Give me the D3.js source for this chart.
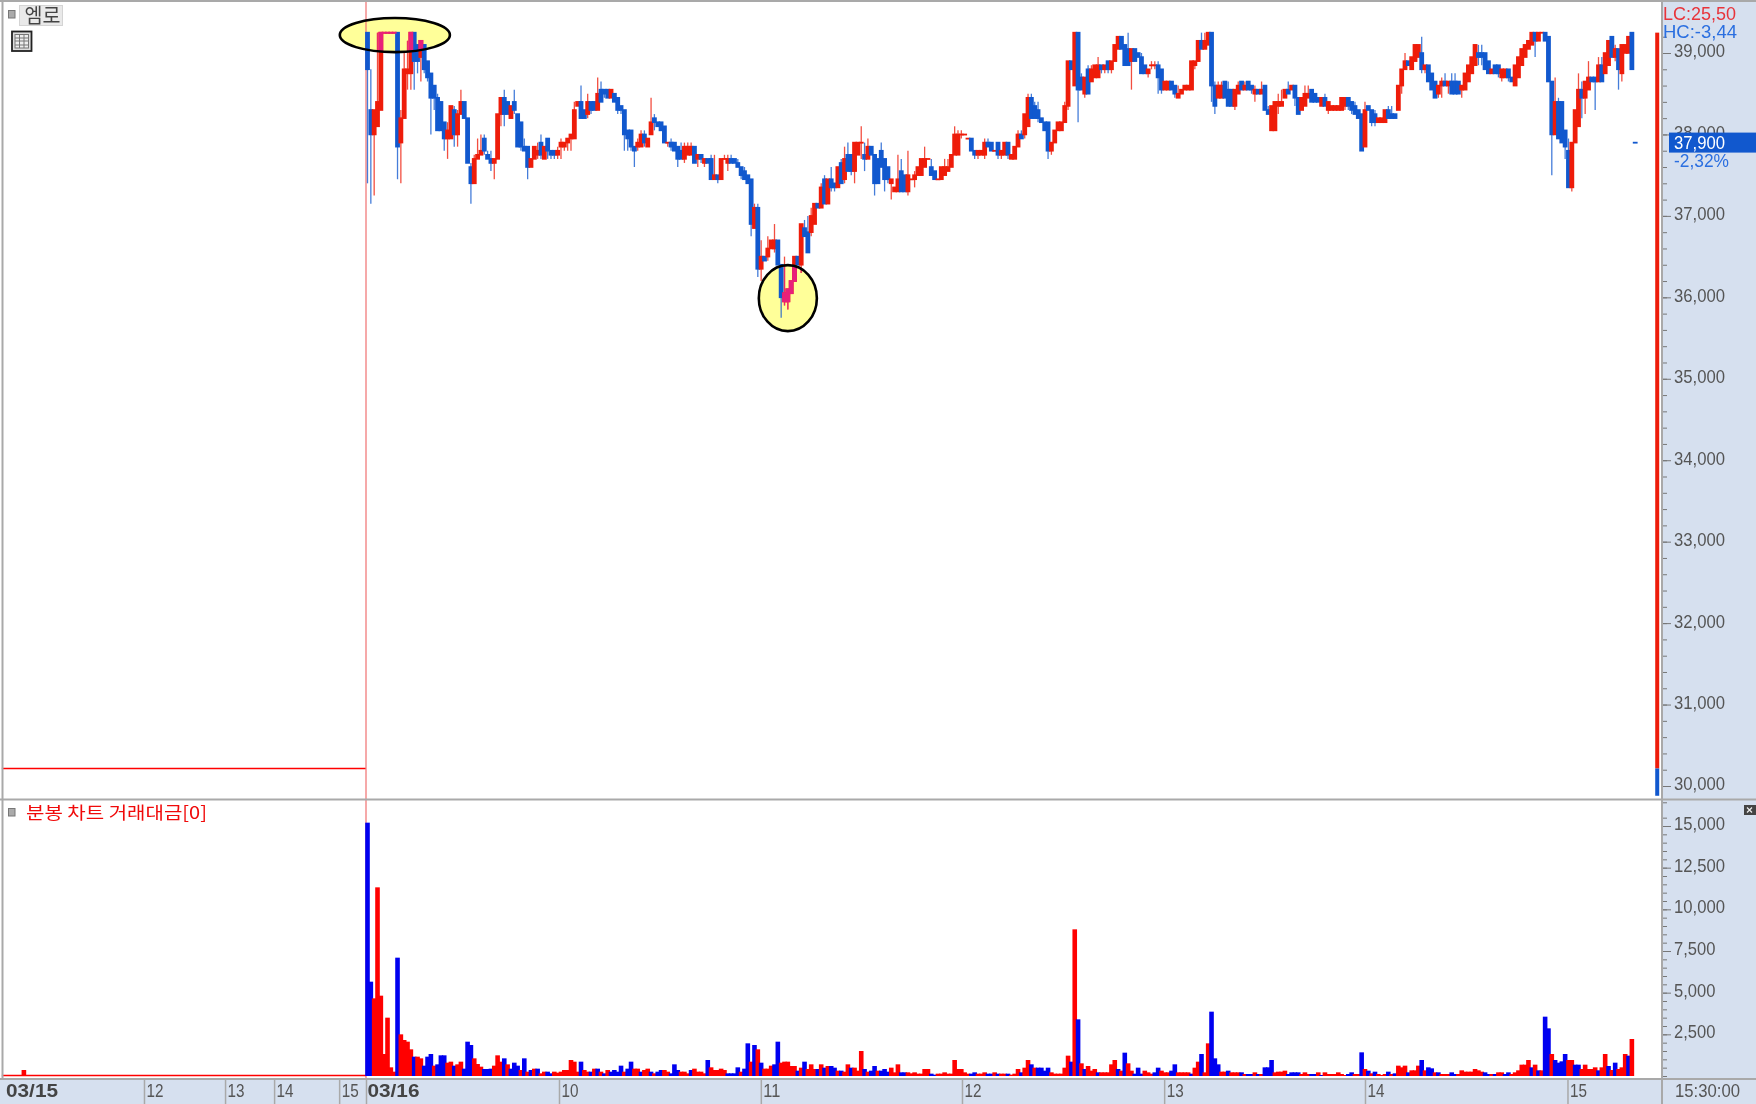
<!DOCTYPE html>
<html><head><meta charset="utf-8">
<script src="https://cdnjs.cloudflare.com/ajax/libs/d3/7.8.5/d3.min.js"></script>
<style>html,body{margin:0;padding:0;background:#fff;overflow:hidden}svg{display:block;filter:blur(.35px)}</style>
</head><body><svg id="c" width="1756" height="1104"></svg>
<script>
// One-minute candles, 03/16 session (bar index 0 = 09:00)
const opens=[39250,38300,38000,38100,38300,39250,39250,39250,39250,39250,
37900,38200,38750,38750,39250,39100,38950,39100,38900,38750,
38600,38450,38400,38150,37950,37950,38300,38000,38250,38400,
38200,37600,37400,37700,37750,37950,37750,37700,37650,37700,
38250,38450,38400,38200,38400,38250,38150,37850,37850,37600,
37700,37750,37900,37700,37950,37800,37800,37750,37850,37850,
37900,37950,37950,38350,38400,38300,38250,38400,38400,38300,
38550,38550,38550,38450,38500,38450,38350,38300,38050,38050,
37850,37850,37850,38000,37850,38000,38200,38150,38150,38100,
37900,37900,37900,37850,37800,37700,37750,37750,37850,37700,
37750,37650,37700,37700,37450,37500,37450,37700,37650,37700,
37700,37650,37600,37550,37500,37450,36850,37100,36350,36500,
36500,36600,36600,36700,36400,35950,35950,36050,36200,36500,
36400,36850,36800,36800,36900,37150,37100,37450,37150,37450,
37400,37350,37650,37450,37750,37750,37550,37750,37900,37750,
37700,37850,37750,37700,37800,37700,37600,37400,37300,37300,
37550,37500,37300,37450,37450,37500,37500,37600,37700,37600,
37550,37450,37450,37500,37550,37600,37750,37750,38000,38000,
37950,37950,37800,37750,37750,37750,37900,37900,37800,37900,
37750,37750,37900,37700,37700,37850,38000,38000,38100,38450,
38350,38300,38200,38150,38150,37800,37900,38050,38050,38150,
38350,38900,38600,39250,38700,38500,38800,38650,38700,38700,
38850,38800,38900,38800,38900,39050,39200,39100,39050,38900,
39050,39000,38950,38850,38750,38850,38850,38850,38800,38550,
38550,38650,38600,38450,38500,38550,38550,38550,38850,38900,
39150,39050,39100,39250,38600,38450,38450,38650,38550,38550,
38350,38500,38650,38550,38650,38600,38500,38550,38500,38600,
38300,38050,38050,38350,38350,38450,38550,38550,38600,38450,
38300,38350,38450,38550,38500,38450,38350,38450,38300,38300,
38300,38300,38300,38350,38450,38400,38350,38300,38250,37850,
38350,38300,38250,38150,38150,38150,38300,38250,38250,38300,
38600,38800,38900,38800,38900,38950,39000,38800,38850,38750,
38650,38500,38600,38650,38600,38650,38650,38650,38550,38550,
38650,38750,38850,39000,39000,39000,38900,38750,38850,38850,
38700,38700,38800,38700,38600,38700,38850,38950,39050,39100,
39250,39150,39250,39250,39200,38650,38000,38400,38400,38050,
37800,37350,37900,38100,38550,38450,38550,38700,38700,38650,
38850,38750,38850,39200,38950,39050,38750,39000,39000,39250,37900];
const highs=[39250,38800,38300,39250,39250,39250,39250,39250,39250,39250,
38300,39000,39150,39250,39250,39100,39150,39100,38900,38750,
38600,38500,38400,38150,38150,38350,38350,38300,38550,38400,
38200,37650,37750,37950,38000,38000,37800,37800,37700,38250,
38450,38550,38400,38350,38550,38250,38150,37950,37850,37700,
37850,37900,38000,37850,37950,37800,37800,37850,37950,37900,
37950,38000,38400,38400,38600,38300,38500,38400,38400,38700,
38650,38550,38550,38550,38500,38450,38350,38300,38050,38050,
37850,37950,38050,38050,37950,38450,38250,38150,38150,38100,
37900,37950,37900,37850,37900,37900,37900,37900,37850,37750,
37750,37700,37700,37750,37750,37500,37700,37750,37750,37750,
37700,37700,37600,37600,37500,37450,37150,37150,36700,36500,
36750,36700,36900,36700,36400,36500,36100,36200,36500,36500,
36900,36950,37000,37100,37150,37150,37400,37500,37450,37600,
37400,37600,37700,37850,37900,37750,37900,37900,38100,37900,
37950,37850,37750,37700,37900,37700,37600,37450,37350,37750,
37700,37500,37800,37450,37550,37600,37700,37850,37700,37700,
37550,37450,37600,37700,37700,37750,38100,38050,38050,38000,
37950,37950,37800,37800,37800,37950,37950,37900,37800,37900,
37800,37900,37900,37750,37850,38050,38050,38000,38500,38500,
38400,38400,38200,38150,38150,37900,38050,38150,38150,38400,
38900,38900,39250,39250,38750,38700,38850,38850,38850,38950,
38850,38850,38900,38900,39100,39200,39200,39100,39250,39050,
39050,39000,39000,38850,38800,38900,38900,38900,38800,38650,
38650,38650,38600,38600,38550,38600,38600,38900,38900,39150,
39250,39250,39250,39250,38650,38650,38650,38650,38650,38550,
38550,38650,38650,38650,38650,38600,38600,38550,38650,38600,
38350,38350,38400,38500,38550,38550,38650,38600,38600,38450,
38450,38600,38600,38550,38500,38450,38450,38500,38400,38350,
38350,38350,38450,38450,38450,38400,38400,38300,38250,38400,
38350,38300,38300,38200,38200,38300,38350,38350,38250,38600,
38800,39000,38900,38950,39100,39100,39200,38800,38850,38750,
38650,38600,38700,38750,38650,38750,38750,38650,38600,38750,
38850,38950,39100,39100,39100,39000,38900,38800,38850,38850,
38800,38800,38800,38700,38850,38950,39050,39100,39150,39250,
39250,39250,39250,39250,39200,38650,38700,38450,38400,38050,
37950,37900,38300,38750,38650,38650,38900,38700,38700,38950,
38950,39000,39150,39200,39100,39050,39100,39100,39200,39250,37900];
const lows=[37400,37150,37250,38100,38300,39250,39250,39250,39250,37450,
37400,38200,38550,38550,38550,38750,38650,38750,38650,38000,
38300,38050,38050,37800,37700,37950,37850,37850,38250,38200,
37650,37150,37400,37700,37750,37750,37700,37550,37450,37700,
38100,38100,38250,38200,38250,37850,37800,37800,37450,37600,
37700,37700,37700,37700,37700,37700,37700,37700,37700,37800,
37800,37800,37950,38350,38200,38200,38200,38250,38300,38300,
38400,38450,38450,38450,38400,38250,38250,37800,37800,37800,
37600,37800,37850,37850,37850,38000,38050,38100,38050,37900,
37850,37800,37800,37600,37700,37650,37750,37750,37650,37600,
37650,37600,37650,37450,37450,37400,37450,37700,37550,37650,
37650,37600,37450,37450,37400,36750,36850,36250,36200,36450,
36450,36600,36550,36400,35750,35900,35850,36050,36200,36400,
36300,36750,36550,36750,36900,37100,37100,37150,37150,37300,
37300,37350,37400,37400,37550,37500,37400,37750,37700,37550,
37700,37750,37250,37400,37600,37300,37400,37200,37300,37300,
37300,37300,37250,37450,37350,37500,37500,37600,37700,37500,
37450,37450,37450,37500,37550,37600,37750,37750,37950,38000,
37950,37800,37700,37700,37750,37700,37850,37800,37800,37700,
37700,37750,37700,37700,37700,37850,37950,37950,38100,38200,
38200,38150,38150,38050,37700,37750,37900,38050,38050,38150,
38300,38800,38600,38150,38550,38450,38500,38650,38700,38700,
38750,38750,38750,38750,38900,39050,39050,38850,38850,38550,
38900,38950,38750,38750,38700,38800,38800,38500,38500,38550,
38550,38550,38450,38450,38500,38550,38550,38550,38800,38900,
39050,39050,39100,38400,38250,38450,38450,38450,38350,38350,
38300,38500,38550,38550,38550,38500,38400,38500,38550,38300,
38250,38050,38050,38250,38350,38450,38500,38550,38350,38250,
38300,38350,38450,38450,38400,38400,38400,38350,38250,38300,
38300,38300,38300,38300,38300,38250,38250,38200,37800,37850,
38300,38100,38100,38150,38150,38150,38300,38200,38200,38300,
38500,38800,38850,38800,38900,38950,38750,38750,38750,38650,
38500,38450,38450,38600,38500,38600,38500,38500,38450,38550,
38650,38750,38850,38850,38850,38950,38850,38750,38750,38700,
38650,38700,38650,38650,38600,38700,38850,38950,39050,39100,
38950,39150,39250,39150,38650,37500,38000,37950,37900,37700,
37350,37300,37900,38100,38200,38250,38550,38650,38300,38650,
38650,38750,38850,38950,38900,38550,38650,39000,39000,38800,37900];
const closes=[38800,38000,38300,38400,39250,39250,39250,39250,39250,37850,
38200,38800,38800,39250,38900,38900,39150,38800,38700,38450,
38450,38050,38050,37950,38050,38350,38000,38250,38400,38200,
37650,37400,37700,37750,37800,37800,37700,37650,37700,38250,
38450,38250,38250,38350,38300,37850,37850,37800,37600,37700,
37850,37800,37750,37850,37800,37750,37750,37800,37900,37900,
37950,38000,38300,38400,38200,38200,38400,38300,38300,38500,
38400,38500,38450,38550,38400,38300,38300,38000,37950,37850,
37800,37900,38000,37900,37950,38150,38150,38100,38050,37900,
37900,37850,37800,37700,37700,37850,37850,37850,37650,37750,
37700,37700,37650,37450,37500,37450,37700,37700,37700,37650,
37650,37600,37500,37450,37400,36900,37100,36350,36500,36450,
36600,36700,36700,36400,36000,36050,36100,36200,36500,36400,
36900,36750,36550,37000,37150,37100,37350,37150,37450,37350,
37350,37600,37400,37700,37550,37550,37900,37900,37900,37700,
37850,37750,37400,37400,37600,37450,37450,37450,37350,37450,
37300,37300,37500,37450,37500,37600,37700,37700,37700,37500,
37450,37450,37600,37600,37600,37750,38000,38000,38000,38000,
37950,37800,37750,37800,37800,37900,37850,37800,37800,37750,
37800,37900,37750,37750,37850,38000,37950,38250,38450,38200,
38200,38200,38150,38050,37800,37900,38050,38150,38150,38350,
38900,38800,39250,38550,38550,38700,38500,38800,38850,38850,
38800,38850,38800,38900,39100,39200,39050,38850,38850,39050,
38900,38950,38750,38750,38800,38850,38850,38700,38550,38650,
38650,38550,38500,38500,38550,38600,38600,38900,38900,39150,
39050,39150,39250,38600,38350,38600,38600,38450,38350,38350,
38550,38600,38550,38600,38550,38550,38550,38500,38550,38300,
38250,38350,38400,38400,38400,38550,38500,38600,38450,38250,
38450,38500,38500,38400,38400,38400,38450,38350,38400,38350,
38350,38350,38450,38450,38350,38300,38250,38200,37800,38300,
38300,38150,38150,38200,38200,38300,38200,38200,38200,38600,
38800,38900,38850,38950,39100,39100,38800,38850,38650,38550,
38450,38600,38650,38600,38650,38500,38500,38500,38600,38750,
38850,38950,39100,38950,38950,38800,38750,38800,38750,38750,
38800,38800,38700,38650,38850,38950,39050,39100,39150,39250,
39150,39250,39250,39150,38650,38000,38400,37950,37900,37850,
37350,37900,38300,38550,38450,38650,38700,38650,38650,38850,
38650,39000,39150,38950,39050,38800,39100,39100,39200,38800,37900];

// Traded value per minute; a negative figure marks a falling (blue) bar.
const signedValues=[-15200,-5660,4660,11320,4820,1320,3500,520,260,-7100,
2500,2160,2060,1600,-1160,1160,1060,-620,-1160,-1320,
620,-700,-1240,-1240,800,860,-620,700,860,-440,
-2060,-1860,1060,720,560,-420,-420,-440,620,1240,
860,-1060,700,-440,-800,-620,360,-1060,260,-360,
440,-440,160,260,-260,-160,260,200,260,360,
360,960,860,260,-860,360,260,-260,440,-440,
260,-160,360,-260,-360,-260,-620,260,-440,-860,
440,440,-260,360,440,-260,160,-260,-360,360,
260,-160,-700,-360,260,260,160,-360,440,260,
260,160,-960,520,360,360,440,360,-160,-160,
-160,-520,260,-440,-1960,860,-1860,1600,-800,440,
440,620,-700,-2060,800,860,860,600,600,-320,
500,-860,420,700,420,-420,700,-500,600,-600,
-500,320,-320,260,700,-500,500,320,1500,-420,
260,-320,-600,320,-320,-420,-260,500,220,700,
-220,-220,220,160,220,140,140,420,420,-140,
-80,140,140,220,140,140,960,420,420,220,
140,-140,-220,140,140,220,-140,-140,220,-140,
140,140,-140,80,140,420,-220,500,960,-700,
500,-500,-500,-320,-500,220,140,140,140,500,
1220,-860,8800,-3400,760,-420,600,320,420,-220,
220,220,220,700,960,-420,320,-1400,760,320,
-140,-500,-140,320,220,140,-220,-500,320,220,
220,-320,-700,220,220,220,220,-140,500,860,
-1320,220,1960,-3860,-1060,-700,260,260,-320,220,
220,220,-220,120,-120,-120,220,-120,120,-520,
-520,-960,220,260,260,320,-120,-220,-220,-220,
120,220,120,-120,-120,220,-60,220,120,120,
120,220,120,60,-120,-220,120,120,-1420,420,
-320,160,-260,120,60,120,-260,120,-160,620,
520,620,-220,340,340,620,-960,340,-520,-460,
220,-220,120,120,120,-220,-120,120,340,260,
260,260,420,340,260,-220,-120,120,-120,220,
220,-120,-220,120,220,340,680,680,960,-520,
680,-340,340,-3560,-2860,1320,-960,-800,-880,-1320,
960,960,-680,-680,420,680,420,420,520,-340,
520,1320,-600,360,-800,420,520,1320,-1220,2220];
const volumeValues=signedValues.map(Math.abs);
const volumeFalling=signedValues.map(v=>v<0);

// Previous session (03/15): flat close line plus a single visible minute of value
const prevClose=30215;
const prevSpikeBar=[-103];
const prevSpikeValue=[360];
const prevStartBar=-109.6;
const prevEndBar=-0.5;

// Whole-range summary candle beside the price scale
const summaryBar=[386.6];
const summaryRed=[30215,39250];
const summaryBlue=[29880,30215];

// Axis content
const priceTicks=[30000,31000,32000,33000,34000,35000,36000,37000,38000,39000];
const priceMinor=d3.range(29800,39300,200);
const volumeTicks=[2500,5000,7500,10000,12500,15000];
const volumeMinor=d3.range(0,16000,500);
const timeBars=[-67,-42.7,-28,-8.5,-0.45,57.4,117.9,178.2,238.8,299,359.7];
const timeLabels=["12","13","14","15","03/16","10","11","12","13","14","15"];
const timeBold=[false,false,false,false,true,false,false,false,false,false,false];
const lastPrice=37900;
const lastPriceText="37,900";
const changeText="-2,32%";
const lcText="LC:25,50";
const hcText="HC:-3,44";
const priceTitle="엠로";
const valueTitle="분봉 차트 거래대금[0]";

// Highlight ellipses in data units: bar, price, half-width in bars, half-height in won
const highlightBar=[8.2,126];
const highlightPrice=[39220,35990];
const highlightBars=[16.5,8.7];
const highlightWon=[209,405];

const RED="#ee1c0a",BLUE="#1158ce",PINK="#e8207a",VRED="#ff0000",VBLUE="#0000f0",GRAY="#a9a9a9",PANEL="#d6e0ef",LABEL="#555";
const x=d3.scaleLinear().domain([0,380]).range([367.5,1635.2]);
const y=d3.scaleLinear().domain([30000,39000]).range([786,53]);
const yv=d3.scaleLinear().domain([0,15000]).range([1076,826]);
const svg=d3.select("#c");
const FONT="'Liberation Sans',Arial,sans-serif",KR="'Noto Sans CJK KR','Noto Sans',sans-serif";
const bars=d3.range(opens.length);
const defs=svg.append("defs");

// panels
svg.append("rect").attr("width",1756).attr("height",1104).attr("fill","#fff");
svg.append("rect").attr("x",1663).attr("width",93).attr("height",1104).attr("fill",PANEL);
svg.append("rect").attr("y",1079).attr("width",1756).attr("height",25).attr("fill",PANEL);

// axes via d3
function styleAxis(g){g.select(".domain").remove();g.selectAll("line").attr("stroke","#777").attr("stroke-width",1);
 g.selectAll("text").attr("fill",LABEL).attr("font-family",FONT).attr("font-size",18).attr("stroke","none");}
function fit(g,perChar){g.selectAll("text").each(function(){const t=d3.select(this);
 t.attr("textLength",t.text().replace(",","").length*perChar+3).attr("lengthAdjust","spacingAndGlyphs");});}
const fmt=d3.format(",");
const minorPrice=svg.append("g").attr("transform","translate(1663,0)").call(d3.axisRight(y).tickValues(priceMinor).tickSize(4).tickFormat("")).call(styleAxis);
const majorPrice=svg.append("g").attr("transform","translate(1663,0)").call(d3.axisRight(y).tickValues(priceTicks).tickSize(8).tickPadding(3).tickFormat(fmt)).call(styleAxis).call(fit,9.6);
majorPrice.selectAll("text").attr("dy","0.22em");
const minorVol=svg.append("g").attr("transform","translate(1663,0)").call(d3.axisRight(yv).tickValues(volumeMinor).tickSize(4).tickFormat("")).call(styleAxis);
const majorVol=svg.append("g").attr("transform","translate(1663,0)").call(d3.axisRight(yv).tickValues(volumeTicks).tickSize(8).tickPadding(3).tickFormat(fmt)).call(styleAxis).call(fit,9.6);
majorVol.selectAll("text").attr("dy","0.2em");

// current price box
const py=y(lastPrice);
svg.append("rect").attr("x",1669).attr("y",py-10).attr("width",87).attr("height",20).attr("fill",BLUE);
function label(t,xp,yp,fill,len,size,fam,weight){return svg.append("text").attr("x",xp).attr("y",yp).attr("fill",fill).attr("font-family",fam||FONT)
 .attr("font-size",size||18).attr("font-weight",weight||"normal").attr("textLength",len).attr("lengthAdjust","spacingAndGlyphs").text(t);}
label(lastPriceText,1674,py+6.5,"#fff",51);
label(changeText,1674,py+24,"#2b6fe0",55);
label(lcText,1663,20,"#e8343a",73);
label(hcText,1663,38,"#2b6fe0",74);

// previous session flat line
const prevLine=d3.line().x(d=>x(d)).y(()=>y(prevClose));
svg.append("path").attr("d",prevLine([prevStartBar,prevEndBar])).attr("stroke",VRED).attr("stroke-width",1.6).attr("fill","none");

// highlight fill
const hl=d3.range(highlightBar.length).map(i=>({cx:x(highlightBar[i]),cy:y(highlightPrice[i]),
 rx:x(highlightBars[i])-x(0),ry:y(0)-y(highlightWon[i])}));
svg.append("g").selectAll("ellipse").data(hl).join("ellipse").attr("cx",d=>d.cx).attr("cy",d=>d.cy).attr("rx",d=>d.rx).attr("ry",d=>d.ry).attr("fill","#ffff99");
defs.append("clipPath").attr("id","hlclip").selectAll("ellipse").data(hl).join("ellipse").attr("cx",d=>d.cx).attr("cy",d=>d.cy).attr("rx",d=>d.rx).attr("ry",d=>d.ry);

// session divider
svg.append("line").attr("x1",x(-0.45)).attr("x2",x(-0.45)).attr("y1",1).attr("y2",1079).attr("stroke","#f07070").attr("stroke-width",1.2);

// candles
function drawCandles(parent,redColor,onlyRed){
 const list=onlyRed?bars.filter(i=>closes[i]>=opens[i]&&i!==380):bars;
 const col=i=>closes[i]>=opens[i]&&i!==380?redColor:BLUE;
 parent.selectAll("line").data(list).join("line").attr("x1",i=>x(i)).attr("x2",i=>x(i)).attr("y1",i=>y(highs[i])).attr("y2",i=>y(lows[i]))
  .attr("stroke",col).attr("stroke-width",1.3).attr("stroke-opacity",.78);
 parent.selectAll("rect").data(list).join("rect").attr("x",i=>x(i)-2.4).attr("width",4.8)
  .attr("y",i=>y(Math.max(opens[i],closes[i]))-.8)
  .attr("height",i=>Math.max(1.8,Math.abs(y(opens[i])-y(closes[i]))+1.6)).attr("fill",col);
}
drawCandles(svg.append("g"),RED,false);
drawCandles(svg.append("g").attr("clip-path","url(#hlclip)"),PINK,true);

// highlight outline
svg.append("g").selectAll("ellipse").data(hl).join("ellipse").attr("cx",d=>d.cx).attr("cy",d=>d.cy).attr("rx",d=>d.rx).attr("ry",d=>d.ry)
 .attr("fill","none").attr("stroke","#000").attr("stroke-width",2.6);

// summary candle
svg.append("rect").attr("x",x(summaryBar[0])-2).attr("width",4).attr("y",y(39250)).attr("height",y(summaryRed[0])-y(summaryRed[1])).attr("fill",RED);
svg.append("rect").attr("x",x(summaryBar[0])-2).attr("width",4).attr("y",y(summaryBlue[1])).attr("height",y(summaryBlue[0])-y(summaryBlue[1])).attr("fill",BLUE);

// value bars
svg.append("line").attr("x1",x(prevStartBar)).attr("x2",x(prevEndBar)).attr("y1",yv(0)-.5).attr("y2",yv(0)-.5).attr("stroke",VRED).attr("stroke-width",1.6);
svg.append("g").selectAll("rect").data(prevSpikeBar).join("rect").attr("x",d=>x(d)-2.3).attr("width",4.6).attr("y",(d,i)=>yv(prevSpikeValue[i])).attr("height",(d,i)=>yv(0)-yv(prevSpikeValue[i])).attr("fill",VRED);
svg.append("g").selectAll("rect").data(bars).join("rect").attr("x",i=>x(i)-2.3).attr("width",4.6)
 .attr("y",i=>yv(volumeValues[i])).attr("height",i=>yv(0)-yv(volumeValues[i])).attr("fill",i=>volumeFalling[i]?VBLUE:VRED);

// frame lines
function hline(yp,x2){svg.append("line").attr("x1",0).attr("x2",x2||1756).attr("y1",yp).attr("y2",yp).attr("stroke",GRAY).attr("stroke-width",2);}
hline(1);hline(799.5);hline(1079);
svg.append("line").attr("x1",2.5).attr("x2",2.5).attr("y1",0).attr("y2",1079).attr("stroke",GRAY).attr("stroke-width",2);
svg.append("line").attr("x1",1662).attr("x2",1662).attr("y1",0).attr("y2",1104).attr("stroke",GRAY).attr("stroke-width",2);

// time axis
const timeAxis=svg.append("g").attr("transform","translate(0,1080)").call(d3.axisBottom(x).tickValues(timeBars).tickSize(24).tickFormat(""));
timeAxis.select(".domain").remove();
timeAxis.selectAll("line").attr("stroke",GRAY).attr("stroke-width",1.5);
timeBars.forEach((b,i)=>{const s=timeLabels[i];
 if(timeBold[i]) label(s,x(b)+1.5,1097,"#444",52,18,FONT,"bold");
 else label(s,x(b)+2.5,1097,LABEL,s.length*8.5);});
label("03/15",6,1097,"#444",52,18,FONT,"bold");
label("15:30:00",1675,1097,LABEL,65);

// pane headers
function bullet(yp){svg.append("rect").attr("x",8.5).attr("y",yp).attr("width",6.5).attr("height",7.5).attr("fill","#aaa").attr("stroke","#777").attr("stroke-width",1);}
bullet(10.5);bullet(808.5);
svg.append("rect").attr("x",19.5).attr("y",5.5).attr("width",43).attr("height",20).attr("fill","#e9e9e9").attr("stroke","#d4d4d4");
label(priceTitle,24.5,22.5,"#444",36,20,KR);
label(valueTitle,26,819,"#f00a0a",181,17,KR);
// table icon
svg.append("rect").attr("x",12).attr("y",31.5).attr("width",19.5).attr("height",19.5).attr("fill","#ddd").attr("stroke","#222").attr("stroke-width",1.8);
svg.append("rect").attr("x",15).attr("y",34.5).attr("width",13.5).attr("height",13.5).attr("fill","#eee").attr("stroke","#777");
[19.5,24].forEach(v=>svg.append("line").attr("x1",v).attr("x2",v).attr("y1",35).attr("y2",48).attr("stroke","#777"));
[38,41,45].forEach(v=>svg.append("line").attr("x1",15).attr("x2",28.5).attr("y1",v).attr("y2",v).attr("stroke","#777"));
// close icon
svg.append("rect").attr("x",1744).attr("y",805).attr("width",12).attr("height",10).attr("fill","#444");
svg.append("path").attr("d","M1747 807.5L1752 812.5M1752 807.5L1747 812.5").attr("stroke","#eee").attr("stroke-width",1.2);
</script></body></html>
